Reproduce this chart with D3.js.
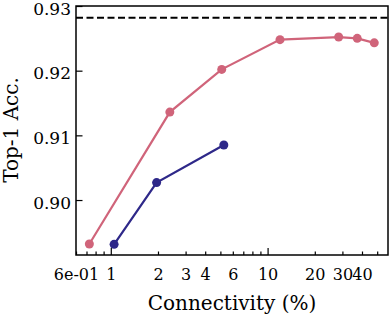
<!DOCTYPE html>
<html>
<head>
<meta charset="utf-8">
<script src="https://cdn.jsdelivr.net/npm/d3@7"></script>
<style>
    body { margin: 0; background: #fff; }
    text { font-family: "DejaVu Serif", "Liberation Serif", serif; fill: #000; }
</style>
</head>
<body>
<svg id="chart" width="389" height="315"></svg>
<script>

/* connectivity (%) vs top-1 accuracy, two runs + dense baseline */
var PINK_X = [0.73, 2.38, 5.1, 12.0, 28.4, 37.3, 47.9];
var PINK_Y = [0.8932, 0.9136, 0.9202, 0.9248, 0.9252, 0.9250, 0.9243];

var BLUE_X = [1.05, 1.96, 5.26];
var BLUE_Y = [0.89315, 0.9027, 0.9085];

var DENSE_ACC = 0.9282;

var Y_TICKS = [0.90, 0.91, 0.92, 0.93];
var X_TICKS = [0.6, 0.7, 0.8, 0.9, 1, 2, 3, 4, 5, 6, 7, 8, 9, 10, 20, 30, 40, 50];
var X_LABELS = {0.6: "6e-01", 1: "1", 2: "2", 3: "3", 4: "4", 6: "6", 10: "10", 20: "20", 30: "30", 40: "40"};

var PINK = "#d0647a";
var BLUE = "#2e2889";
var TICK_FONT = "17px";
var LABEL_FONT = "20px";

function draw(){
    var svg = d3.select("#chart");
    var left = 76, right = 388, top = 6, bottom = 255;

    var x = d3.scaleLog().domain([0.6, 58.6]).range([left, right]);
    var y = d3.scaleLinear().domain([0.8915, 0.93]).range([bottom, top]);

    /* baseline */
    svg.append("line")
        .attr("x1", left).attr("x2", right)
        .attr("y1", y(DENSE_ACC)).attr("y2", y(DENSE_ACC))
        .attr("stroke", "#000")
        .attr("stroke-width", 2)
        .attr("stroke-dasharray", "7,3.5");

    appendSeries(svg, x, y, PINK_X, PINK_Y, PINK);
    appendSeries(svg, x, y, BLUE_X, BLUE_Y, BLUE);

    /* x axis: ticks pointing inward */
    var xAxis = d3.axisBottom(x)
        .tickValues(X_TICKS)
        .tickSizeInner(-3.5)
        .tickSizeOuter(0)
        .tickFormat(function(d){ return X_LABELS[d] || ""; });

    var gx = svg.append("g")
        .attr("transform", "translate(0," + bottom + ")")
        .call(xAxis);
    gx.select(".domain").remove();
    gx.selectAll(".tick line")
        .attr("stroke-width", 1.2)
        .attr("y2", function(d){ return (d === 1 || d === 10) ? -7 : -3.5; });
    gx.selectAll(".tick text")
        .attr("font-family", null)
        .style("font-size", "16px")
        .attr("y", 25)
        .attr("dy", 0);

    var yAxis = d3.axisLeft(y)
        .tickValues(Y_TICKS)
        .tickSizeInner(-6.5)
        .tickSizeOuter(0)
        .tickPadding(5)
        .tickFormat(d3.format(".2f"));

    var gy = svg.append("g")
        .attr("transform", "translate(" + left + ",0)")
        .call(yAxis);
    gy.select(".domain").remove();
    gy.selectAll(".tick line").attr("stroke-width", 1.2);
    gy.selectAll(".tick text")
        .attr("font-family", null)
        .style("font-size", TICK_FONT)
        .attr("dy", 8);

    /* frame */
    svg.append("rect")
        .attr("x", left).attr("y", top)
        .attr("width", right - left).attr("height", bottom - top)
        .attr("fill", "none")
        .attr("stroke", "#000")
        .attr("stroke-width", 1.5);

    /* axis labels */
    svg.append("text")
        .attr("x", 232)
        .attr("y", 310)
        .attr("text-anchor", "middle")
        .style("font-size", LABEL_FONT)
        .text("Connectivity (%)");

    svg.append("text")
        .attr("transform", "translate(17.5,130) rotate(-90)")
        .attr("text-anchor", "middle")
        .style("font-size", LABEL_FONT)
        .text("Top-1 Acc.");
}

function appendSeries(svg, x, y, xs, ys, color){
    var pts = xs.map(function(v, i){ return [v, ys[i]]; });
    var line = d3.line()
        .x(function(d){ return x(d[0]); })
        .y(function(d){ return y(d[1]); });

    svg.append("path")
        .attr("d", line(pts))
        .attr("fill", "none")
        .attr("stroke", color)
        .attr("stroke-width", 2.2);

    svg.selectAll(null)
        .data(pts).enter()
        .append("circle")
        .attr("cx", function(d){ return x(d[0]); })
        .attr("cy", function(d){ return y(d[1]); })
        .attr("r", 4.5)
        .attr("fill", color);
}

draw();
</script>
</body>
</html>
